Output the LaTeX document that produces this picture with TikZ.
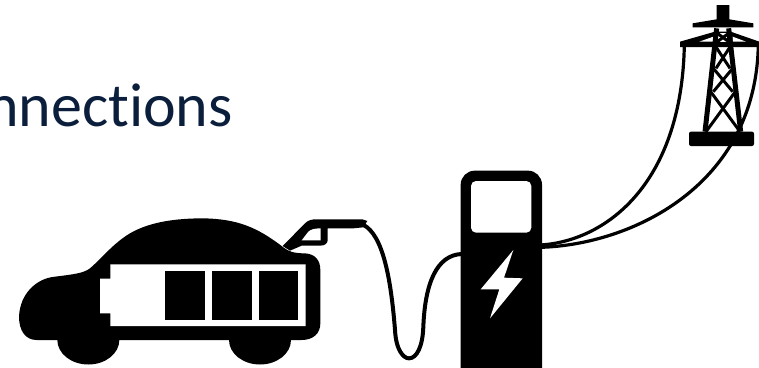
\documentclass[tikz,border=0pt]{standalone}
\usepackage{fontspec}
\setmainfont[Ligatures=NoCommon,Contextuals=NoAlternate]{Carlito}
\definecolor{titlenavy}{HTML}{0B1F3D}
\tikzset{
  solid black/.style={fill=black,draw=none},
  hole/.style={fill=white,draw=none},
  wire/.style={draw=black,line width=3.2pt,line cap=round},
  cable/.style={draw=black,line width=4pt},
  lattice/.style={draw=black,line width=5pt},
  brace/.style={draw=black,line width=3pt},
  zoomed/.style={x=0.33333pt,y=-0.33333pt}
}
\begin{document}
\begin{tikzpicture}[x=1pt,y=-1pt]
  \useasboundingbox (0,0) rectangle (759,367);
  \clip (0,0) rectangle (759,367);
  \node[anchor=base east,inner sep=0pt,text=titlenavy,font=\fontsize{62}{66}\selectfont] (title) at (233,126) {nnections};
  % car
  \begin{scope}[shift={(0,190)},zoomed]
    \path[solid black] (110,450) .. controls (75,450) and (57,420) .. (57,380)
      .. controls (60,310) and (110,265) .. (165,260) .. controls (220,253) and (250,250) .. (270,235)
      .. controls (310,200) and (340,160) .. (390,130) .. controls (450,95) and (530,85) .. (610,85)
      .. controls (710,87) and (770,110) .. (850,172) .. controls (865,184) and (880,190) .. (915,190)
      .. controls (945,192) and (961,210) .. (961,240) -- (961,400)
      .. controls (961,430) and (940,450) .. (905,450) -- cycle;
    \foreach \cx in {265,780}{\fill (\cx,450) circle [x radius=31pt,y radius=24.5pt];}
    \path[hole] (331,223) -- (917,223) -- (917,408) -- (331,408) -- (331,370) -- (300,370) -- (300,266) -- (331,266) -- cycle;
    \foreach \cx/\cw in {494/120,636/119,777/118}{\path[solid black] (\cx,243) rectangle ++(\cw,147);}
    % nozzle
    \path[solid black] (848,168) -- (915,100) .. controls (925,90) and (935,88) .. (950,88) -- (1087,88) -- (1102,93) -- (1090,112) -- (1060,115) -- (983,115) -- (983,150)
      .. controls (983,160) and (975,167) .. (960,167) -- (905,167) -- (870,182) -- cycle;
    \path[hole] (905,151) -- (925,125) .. controls (932,118) and (945,115) .. (962,115) -- (962,151) -- cycle;
  \end{scope}
  % pump
  \begin{scope}[shift={(360,150)},zoomed]
    \path[solid black,rounded corners=14pt] (302,720) -- (302,62) -- (546,62) -- (546,720) -- cycle;
    \path[hole,rounded corners=5pt] (333,93) rectangle (514,248);
    \path[hole] (460,300) -- (362,418) -- (418,418) -- (390,505) -- (488,385) -- (432,383) -- cycle;
    \draw[cable] (0,220) .. controls (60,240) and (90,350) .. (105,540)
      .. controls (108,600) and (130,625) .. (147,625) .. controls (170,625) and (188,590) .. (190,530)
      .. controls (195,400) and (230,315) .. (305,312);
  \end{scope}
  % tower
  \begin{scope}[shift={(540,0)},zoomed]
    \draw[wire] (0,735) .. controls (190,725) and (425,560) .. (433,135);
    \draw[wire] (0,742) .. controls (270,735) and (650,560) .. (655,130);
    \path[solid black,rounded corners=2pt] (447,395) rectangle (642,438);
    \path[solid black] (530,15) -- (568,15) -- (568,58) -- (640,70) -- (640,82) -- (458,82) -- (458,70) -- (530,58) -- cycle;
    \path[solid black] (420,125) -- (525,95) -- (572,95) -- (658,125) -- (658,141) -- (420,141) -- cycle;
    \path[hole] (478,125) -- (520,110) -- (520,125) -- cycle;
    \path[hole] (578,110) -- (618,125) -- (578,125) -- cycle;
    \path[hole] (533,100) rectangle (562,125);
    \draw[lattice] (530,85) -- (495,395);
    \draw[lattice] (566,85) -- (602,395);
    \foreach \ya/\yb/\xa/\xb in {141/205/528/570,205/275/520/578,275/395/512/600}{
      \draw[brace] (\xa,\ya) -- (\xb,\yb);
      \draw[brace] (1098-\xa,\ya) -- (1098-\xb,\yb);
    }
    \draw[brace] (532,100) -- (566,125);
    \draw[brace] (566,100) -- (532,125);
  \end{scope}
\end{tikzpicture}
\end{document}
